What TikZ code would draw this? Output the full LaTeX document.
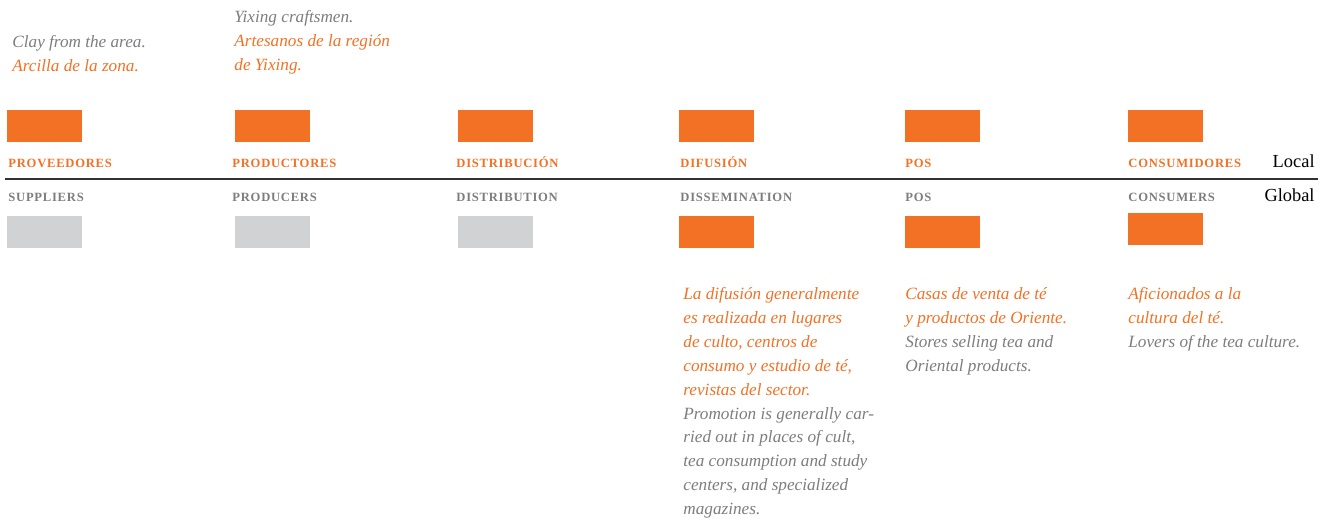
\documentclass[tikz,border=0pt]{standalone}
\usepackage{fontspec}
\setmainfont{Liberation Serif}
\newfontfamily\capsfont[LetterSpace=6]{Liberation Serif}
\usepackage{xcolor}
\definecolor{teaorange}{RGB}{242, 113, 37}
\definecolor{textgray}{RGB}{125, 125, 125}
\definecolor{boxgray}{RGB}{209, 210, 212}
\definecolor{rulegray}{RGB}{50, 50, 50}
\usepackage{tikz}
\usetikzlibrary{positioning}
\tikzstyle{stagebox} = [
    rectangle,
    fill=teaorange,
    inner sep=0pt,
    minimum width=37.5pt,
    minimum height=16pt
]
\tikzstyle{idlebox} = [
    stagebox,
    fill=boxgray
]
\tikzstyle{localcap} = [
    anchor=base west,
    inner sep=0pt,
    text=teaorange,
    font=\capsfont\bfseries\fontsize{6.3}{7}\selectfont
]
\tikzstyle{globalcap} = [
    localcap,
    text=textgray
]
\tikzstyle{note} = [
    anchor=north west,
    inner sep=0pt,
    align=left,
    font=\itshape\fontsize{8.6}{11.95}\selectfont
]
\tikzstyle{scopelabel} = [
    anchor=base east,
    inner sep=0pt,
    text=black,
    font=\fontsize{9.2}{10}\selectfont
]

\begin{document}
\begin{tikzpicture}[x=0.5pt, y=-0.5pt]
    \useasboundingbox (0,0) rectangle (1330,522);

    % Local row boxes
    \node[stagebox] (provlocal) at (44,126) {};
    \node[stagebox] (prodlocal) at (272.5,126) {};
    \node[stagebox] (distlocal) at (495.5,126) {};
    \node[stagebox] (difulocal) at (716.5,126) {};
    \node[stagebox] (poslocal) at (942.5,126) {};
    \node[stagebox] (conslocal) at (1165.5,126) {};

    % Local labels
    \node[localcap] (provname) at (8,168) {PROVEEDORES};
    \node[localcap] (prodname) at (232,168) {PRODUCTORES};
    \node[localcap] (distname) at (456,168) {DISTRIBUCIÓN};
    \node[localcap] (difuname) at (680,168) {DIFUSIÓN};
    \node[localcap] (posname) at (905,168) {POS};
    \node[localcap] (consname) at (1128,168) {CONSUMIDORES};
    \node[scopelabel] (local) at (1315,168) {Local};

    % Dividing rule
    \coordinate (ruleL) at (5,179);
    \coordinate (ruleR) at (1318,179);
    \draw[rulegray, line width=1.3pt] (ruleL) -- (ruleR);

    % Global labels
    \node[globalcap] (suppname) at (8,202) {SUPPLIERS};
    \node[globalcap] (producname) at (232,202) {PRODUCERS};
    \node[globalcap] (distribname) at (456,202) {DISTRIBUTION};
    \node[globalcap] (dissname) at (680,202) {DISSEMINATION};
    \node[globalcap] (posglobname) at (905,202) {POS};
    \node[globalcap] (consumname) at (1128,202) {CONSUMERS};
    \node[scopelabel] (global) at (1315,202) {Global};

    % Global row boxes
    \node[idlebox] (provglobal) at (44,232) {};
    \node[idlebox] (prodglobal) at (272.5,232) {};
    \node[idlebox] (distglobal) at (495.5,232) {};
    \node[stagebox] (difuglobal) at (716.5,232) {};
    \node[stagebox] (posglobal) at (942.5,232) {};
    \node[stagebox] (consglobal) at (1165.5,229) {};

    % Notes above
    \node[note] (claynote) at (12,35) {{\color{textgray}Clay from the area.}\\{\color{teaorange}Arcilla de la zona.}};
    \node[note] (craftnote) at (234,10) {{\color{textgray}Yixing craftsmen.}\\{\color{teaorange}Artesanos de la región}\\{\color{teaorange}de Yixing.}};

    % Notes below
    \node[note] (difunote) at (683,287) {{\color{teaorange}La difusión generalmente}\\{\color{teaorange}es realizada en lugares}\\{\color{teaorange}de culto, centros de}\\{\color{teaorange}consumo y estudio de té,}\\{\color{teaorange}revistas del sector.}\\{\color{textgray}Promotion is generally car-}\\{\color{textgray}ried out in places of cult,}\\{\color{textgray}tea consumption and study}\\{\color{textgray}centers, and specialized}\\{\color{textgray}magazines.}};
    \node[note] (posnote) at (905,287) {{\color{teaorange}Casas de venta de té}\\{\color{teaorange}y productos de Oriente.}\\{\color{textgray}Stores selling tea and}\\{\color{textgray}Oriental products.}};
    \node[note] (consnote) at (1128,287) {{\color{teaorange}Aficionados a la}\\{\color{teaorange}cultura del té.}\\{\color{textgray}Lovers of the tea culture.}};

\end{tikzpicture}
\end{document}
